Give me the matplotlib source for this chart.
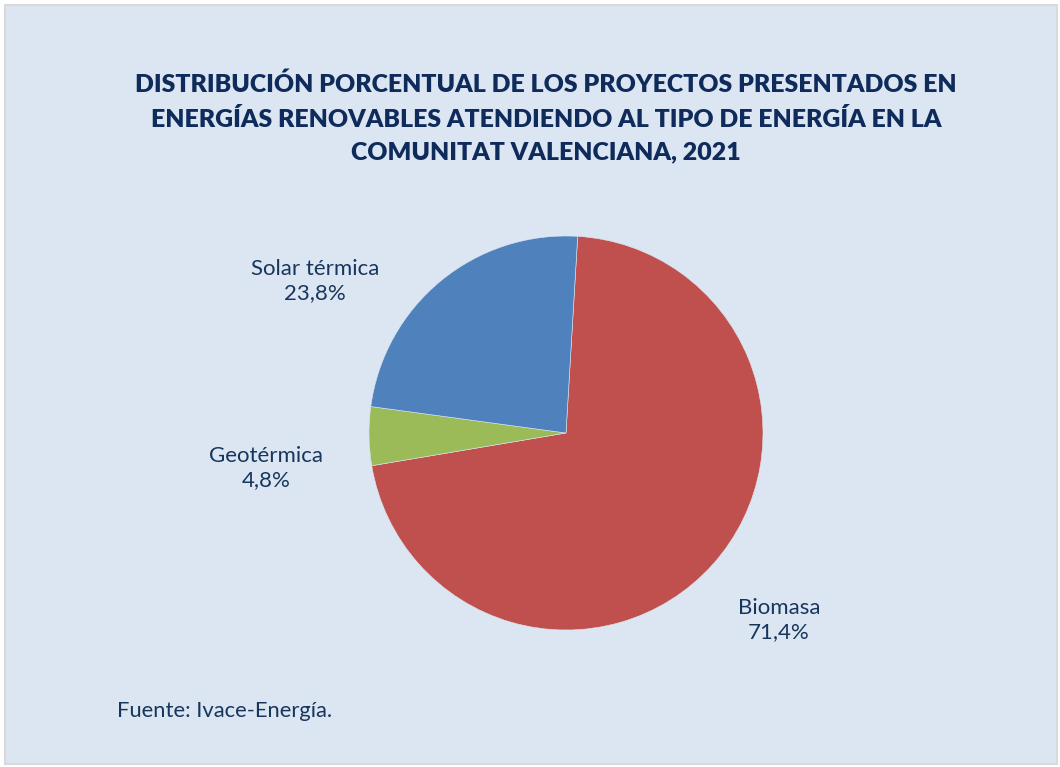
import matplotlib
matplotlib.use("Agg")
import matplotlib.pyplot as plt
from matplotlib.patches import Rectangle

categories = ["Biomasa", "Geotérmica", "Solar térmica"]
values = [71.4, 4.8, 23.8]
colors = ["#C0504D", "#9BBB59", "#4F81BD"]
title = ("DISTRIBUCIÓN PORCENTUAL DE LOS PROYECTOS PRESENTADOS EN\n"
         "ENERGÍAS RENOVABLES ATENDIENDO AL TIPO DE ENERGÍA EN LA\n"
         "COMUNITAT VALENCIANA, 2021")
source = "Fuente: Ivace-Energía."

W, H = 1060, 767
fig = plt.figure(figsize=(W / 100, H / 100), dpi=100)
fig.patch.set_facecolor("white")
bg = Rectangle((5 / W, 3 / H), 1052 / W, 759 / H, transform=fig.transFigure,
               facecolor="#DCE6F2", edgecolor="#D9D9D9", linewidth=1.5, zorder=-10)
fig.patches.append(bg)

navy = "#17365D"
title_color = "#0F2B5B"
font = ["Lato", "DejaVu Sans"]

fig.text(546 / W, 1 - 118 / H, title, ha="center", va="center", fontsize=17.9,
         fontweight="heavy", color=title_color, family=font, linespacing=1.62)
fig.text(117 / W, 1 - 711 / H, source, ha="left", va="center", fontsize=15.8,
         color=navy, family=font)

cx, cy, r = 566, 433, 197
ax = fig.add_axes([(cx - r) / W, 1 - (cy + r) / H, 2 * r / W, 2 * r / H])
ax.set_facecolor("none")
ax.set_zorder(1)
wedges, _ = ax.pie(values, colors=colors, startangle=86.6, counterclock=False,
                   radius=1.0, wedgeprops=dict(linewidth=0.4, edgecolor="#DCE6F2"))
ax.set_xlim(-1, 1)
ax.set_ylim(-1, 1)
ax.set_aspect("equal")
ax.axis("off")

label_pos = {"Biomasa": (779, 620), "Geotérmica": (266, 468), "Solar térmica": (315, 281)}
for cat, v in zip(categories, values):
    x, y = label_pos[cat]
    txt = f"{cat}\n{v:.1f}%".replace(".", ",")
    fig.text(x / W, 1 - y / H, txt, ha="center", va="center", fontsize=16,
             color=navy, family=font, linespacing=1.3)

fig.savefig("out.png", dpi=100, facecolor=fig.get_facecolor())
